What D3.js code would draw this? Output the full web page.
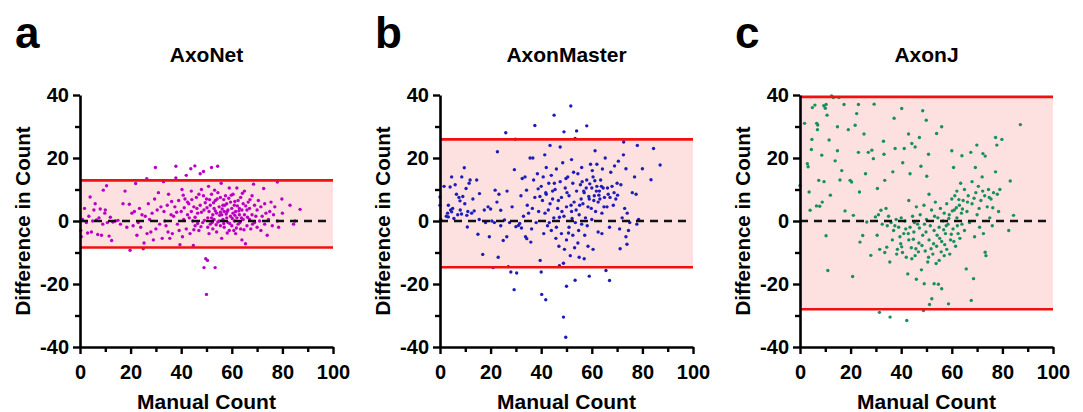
<!DOCTYPE html>
<html><head><meta charset="utf-8">
<script src="https://cdn.jsdelivr.net/npm/d3@7"></script>
<style>
body{margin:0;background:#fff;}
svg{display:block;font-family:"Liberation Sans",Arial,sans-serif;font-weight:bold;}
</style></head>
<body>
<svg id="chart" width="1083" height="412"></svg>
<script>
// ---- data ----
const panelLetters = ["a", "b", "c"];
const panelTitles = ["AxoNet", "AxonMaster", "AxonJ"];
const upperLimits = [12.9, 25.9, 39.4];
const lowerLimits = [-8.4, -14.7, -28.0];
const xTicks = [0, 20, 40, 60, 80, 100];
const yTicks = [-40, -20, 0, 20, 40];
const xLabel = "Manual Count";
const yLabel = "Difference in Count";

const axonetPts = [
[0.3,-3],[0.5,-5],[1,0.5],[1.8,4],[2.5,-0.5],[3,-3.8],[3.5,1.5],[4,7.6],[4.5,-3.5],[5,0],[5.5,3.5],[6,5.5],[6.5,0.3],[7,-4.3],[7.5,1],[8,3.8],[8.5,-4.5],[9,-1],[9.2,9.8],[9.8,2.5],[10,3.5],[10.5,11.2],[10.8,-0.5],[11.5,-4.8],[12,1.2],[12.5,-6.2],[13,-0.3],[14,0],[15,0.2],[16,-1],
[17,5.5],[17.8,9.5],[18.5,-2],[19.5,5.3],[19.8,-9.3],[20.5,2.5],[21,-1.5],[21.5,3],[22,11.9],[22.5,-4.5],[23,-0.5],[23.5,4],[24,-2],[24.5,2],[25,-8.8],[25.3,-7],[25.8,1.5],[26.4,13.4],[26.5,-4],[27,5.5],[27.5,0.5],[28,-3.5],[28.5,2.5],[29,-6],[29.8,17],[29.5,7],[30,-2.5],[30.5,3.5],[31,9],[31.5,-1],
[32,4.5],[32.5,-5.5],[33,12.5],[33.5,0],[34,-1.5],[34.5,5],[35,8.5],[35.5,-5.5],[36,2],[36.5,-4],[37,1.5],[37.5,4.5],[37.9,17.4],[37.9,13.7],[38.5,-1],[39,6.5],[39.5,-7.5],[40,3],[40.3,10],[40.5,-5],[41,0.5],[41.5,7],[42,14.5],[42,-2.5],[42.5,2],[43,5.5],[43.5,-4],[43.8,16.6],[44,9.5],[44.5,0],[44.8,-7.8],[45,4.5],[45.4,17.5],[45.5,-1.5],[46,7.5],[46.5,2.5],[47,-3],[47.5,15],[47.5,5],[48,10],[48.5,-0.5],[48.8,15.7],[49,-14.8],[49,3.5],[49.7,-12],[50,-23.3],[50.4,-12.5],[50,7],[50.5,1],[51,-4],
[51,3],[51.5,5],[51.5,-1],[52,17],[52,8.5],[52.5,2],[52.5,-2.5],[53,4],[53,0.5],[53.4,-14.8],[53.5,6.5],[54,-3.5],[54,2.5],[54.4,17.4],[54.5,9],[55,0],[55,4.5],[55.5,-1.5],[55.5,7.5],[56,2],[56,-5.5],[56.5,5],[56.5,0.5],[57,3],[57,-2],[57.5,8],[58,1],[58,5.5],[58.5,-0.5],[58.5,3.5],[59,10.5],[59,-3],[59.5,6],[59.5,1.5],[60,4],[60,-1.5],[60.5,2.5],[60.5,8.5],[61,0],[61,5],[61.5,-4],[61.5,3],[62,10.5],[62,1],[62.5,6.5],[62.5,-1],[63,4],[63,2],[63.5,-2.5],[63.5,7.5],[64,-6],[64,3.5],[64.5,0.5],[64.5,5.5],[65,2],[65,9.5],[65.4,-7.2],
[42.5,6],[44,3],[45.5,1.2],[46.5,-0.8],[48,2.8],[49.5,5.8],[50.5,-2],[52,1],[53.5,3.2],[54.5,-0.3],[55.5,2.8],[56.8,6.8],[57.8,2.2],[58.8,7.2],[60.2,0.8],[61.2,6.2],[62.8,3.2],[63.8,1],[45,-2.8],[47,8.5],[50.8,11],[53.2,9.8],[55.8,12],[58.2,-3.8],[61.8,-2.2],
[41.2,4.2],[43.2,1],[44.2,6.8],[46.2,4],[47.8,-1.8],[48.8,8],[49.2,0.2],[50.2,4.2],[51.2,6.8],[52.2,-0.5],[52.8,5.8],[53.8,-1.2],[54.2,7],[55.2,1.8],[56.2,3.8],[56.8,-0.8],[57.2,5],[58.2,3],[59.2,-0.8],[59.8,8.2],[60.8,-3],[61.2,1.8],[62.2,4.8],[63.2,-0.5],[64.2,8.8],[64.8,-2.8],[65.5,4.8],[66.2,1.2],[67.2,6.8],[68.2,-1],[36.2,6.2],[38.2,2.8],[39.2,-3],[40.8,8.2],[33.2,3],[34.8,-3.5],
[66,3.5],[66,-1.5],[66.5,6],[67,0.5],[67,4],[67.5,-2.5],[68,2],[68,8],[68.6,11.7],[69,-0.5],[69,5],[69.5,1.5],[70,-2],[70,3.5],[70.5,6.5],[71,0],[71.5,-3],[71.5,4.5],[72,1.5],[72.6,10.3],[73,-1],[73,5.5],[73.5,2.5],[74,-4.5],[74.5,0.5],[75,3],[75.5,6],[76,-1.5],[76.5,2],[77,4.5],[78,12.4],[78,0],[78.5,-2],[79.8,7],[80,2.5],[83,5],[84.4,-1],[87,3.7],[85,0]
];

const axonMasterPts = [
[0,7.6],[0,5],[0.3,0.5],[1.6,11],[2.5,1.5],[3,2.5],[3.3,5],[3.3,1.3],[4,10.8],[4.2,3.5],[4.6,14],[4.6,2.9],[5,4],[5.5,0.8],[6,11.5],[6.5,8.5],[7,2],[7.5,7.5],[7.9,6.4],[8,3.5],[8.5,2.2],[8.6,14],[9,7.8],[9.6,16.9],[9.8,5.5],[10.3,10.3],[10.6,1.8],[10.8,-1.9],[11,3],[11.5,12],[11.9,13],[12.5,2.5],[13,7],[13.5,3.2],[14.5,13],[15,-4.2],[15.6,8.7],[15.5,0.5],
[16.9,-10.6],[17.5,3.5],[18,-0.5],[19,4.5],[19.5,-5],[20,3.8],[20.5,0],[21,-14.8],[21.5,-0.5],[21.8,9.8],[22.7,22],[22.5,6],[23,-11.5],[23.3,8.5],[24,3.4],[24,-1.5],[25,-6.2],[25.5,0.3],[26,28],[26.4,-5],[26.5,9.5],[27,-14.5],[27.5,-0.5],[28,-16.2],[28.5,4.5],[29.3,-21.8],[29.4,16.3],[29.8,26],[30,-1.8],[30.3,-16.5],[31,-1.4],[31.5,-0.8],[32,8],[32.5,13.5],[33,1.5],[33.6,14],[33.8,-5],[34.3,-5.6],[34.5,5],[35,2.5],[35.6,20],[35.9,-6.7],
[36.5,4],[36.7,20],[37,13],[37.5,30.3],[37.5,7.5],[38,-0.5],[38.5,15],[39,3],[39.6,-12.5],[40,-16.2],[40,11],[40.2,-23.3],[40.5,6.5],[41,-4],[41.4,21],[41.5,2.5],[41.8,-25],[42,8.5],[42,17],[42.5,-1.5],[43,12],[43.5,24],[43.5,5.5],[44,-3],[44,14.5],[44.5,7],[45.1,33.6],[45,1],[45.5,10],[46,-2],[46,16.5],[46.5,4],[47,-8],[47.2,-14.2],[47.5,12.5],[47.5,23.5],[48,-4],[48,7.5],[48.5,18.5],[48.8,-13.4],[48.8,-30.5],[49,28.3],[49,1.5],[49.5,10.5],[49.7,-36.9],[50,-20.7],[50,4.5],[50,-6],
[50.5,14],[51,-2],[51,8],[51.7,36.5],[51.5,-11],[52,3],[52,19.5],[52.5,-4.5],[52.5,12],[53,6],[53.4,-18.8],[53.4,26.2],[53.5,-0.5],[54,28.6],[54,9.5],[54.5,-7],[54.5,15],[55,2],[55,-11.5],[55.5,11.5],[56,-1],[56,17],[56.5,5.5],[57,-12],[57,9],[57.5,1],[58,30.2],[58,13],[58.5,-8],[58.5,4.5],[59,-17.5],[59,7],[59.5,18],[60,0.5],[60,10.5],[60.5,-9],[60.5,14],[61,8],[61.3,22.3],[61.5,3],[62,11],[62,18],[62.5,-3.5],[62.5,6],[63,9.5],[63.5,13],[64,-4],[64,2.5],[64.5,10.5],[65,7.5],
[44.5,9.5],[46.8,6.5],[48.2,3],[50.2,9],[51.8,5],[53.8,3.5],[55.8,7],[57.8,10.5],[59.8,4],[61.8,9.5],[63.2,7],[64.8,4.5],[52.8,15.5],[56.2,12.5],[60.2,16],[45.8,-5.5],[49.2,-9],[54.8,-3],[58.2,-1.5],[41.8,9],[39.5,7.8],[43.2,-0.5],
[40.8,14],[42.8,3.5],[45.2,12],[47.2,1.2],[49.8,13.5],[50.8,-3.8],[52.2,0.8],[53.2,-8.5],[55.2,5],[56.8,9.5],[57.2,-4.5],[58.8,7.8],[59.2,11.8],[60.8,6.5],[61.2,12.8],[62.8,8.2],[63.8,11],[64.2,16.5],[66.2,10.5],[67.2,7.5],[68.8,9],[70.2,8.2],[38.8,10.2],[36.2,-2.5],[34.2,9.8],[32.2,-2.2],
[65.3,20],[65.6,-15.7],[66,4.5],[66.5,8.5],[67,-18.9],[67,-2],[67.5,15.5],[68,11],[68.5,5],[69,17.5],[69.5,7],[70,12],[70.5,19],[71,-2.5],[71.2,-8.8],[71.5,11.5],[72,1],[72.5,21],[72.6,25.1],[73,4],[73.5,16.6],[73.5,-5],[73.9,-7.4],[74,2.5],[74.5,-3],[75,-0.5],[76,9],[76.9,14],[77.5,8.5],[78,24],[77.8,-1],[78.5,0.5],[80,16.6],[83.4,13.1],[84.4,23],[87,17.8]
];

const axonJPts = [
[1.8,31],[0,11.3],[2.9,18.2],[3.6,9.2],[4,3.4],[4.5,22.7],[4.7,25.9],[4.9,36],[5.9,36.8],[6.6,31],[6.9,29],[7.4,12.9],[7.8,4.7],[8.6,20.9],[8.8,6],[9.4,36.6],[10,35.8],[10.3,37],[10.3,-4.7],[10.7,33.6],[11,-15.7],[11.5,25.7],[12.5,39.7],[13.2,39.2],[13.9,19.1],[14.8,29.9],[14.8,22.3],[15.4,39.2],[15.8,13],[17.4,37],[17.8,3.2],[19.1,29],[19.8,12.9],[20.4,12.4],[20.8,-17.6],[21.1,1.8],[21.8,30.4],[22.4,34.1],[23.1,37],[23.1,21.8],[23.5,9.2],[23.7,-6.7],[24.8,-4.6],[25.3,27.6],[25.9,15],[26.4,-0.3],[27,21.8],[28,-10.9],[28.4,22.5],[29,19.8],[29.3,37.1],[29.8,1.3],[30.6,10.3],[31.4,-29],[9.5,12.5],[6.5,4.8],[12,8.2],[16.5,16],[3.2,17.2],[7,30.5],
[30.5,-4.5],[31,2],[31.5,-9],[32,3.4],[32.5,-1],[33,25.3],[33.2,21.2],[33.5,12.9],[33.5,-10],[34,4],[34.3,-8.3],[34.5,-1.5],[35,1.5],[35.5,-13],[35.6,-30.5],[36,-0.5],[36.5,-6],[36.7,15.6],[37,-3],[37.2,32.6],[37.6,23],[38,0.5],[38.5,-9],[39,-2],[39.5,-5],[40,1],[40.2,35.7],[40.5,-10],[40.6,18.5],[41,-4],[41.2,23],[41.5,0],[42,-11.5],[42.2,-31.6],[42.6,-16.8],[42.9,27.6],[43,-6],[43,6.5],[43.5,15],[43.5,-2],[44,-8.5],[44.2,24.6],[44.5,1.5],[45,-3.5],[45.5,23.5],[45.5,-11],[46,4.5],[46,-18.5],[46.5,-1],[47,-7],[47.2,26.5],[47.5,2],[47.8,17.4],[48,-15.5],[48.5,35],[48.5,-4.5],[48.8,-28.4],[49,5],[49.1,-19.9],[49.5,-9.5],[49.9,32],[50,0.5],[50.1,14.2],[50.5,-13],[50.8,21.2],[51,-6],[51,8.5],[51.2,-26.5],[51.5,-1.5],[52,3.5],[52.1,-24.7],[52.5,-10.5],[53,-19.9],[53,-3],[53.5,6],[54,27.8],[54,-8],[54.5,1],[54.7,-20.1],[55,-12.5],[55,-2],[55.5,4],[56,29.9],[56,-21.5],[56,-6.5],[56.5,0],[57,-11],[57,2.5],[57.5,-4],[58,5.5],[58,-9],[58.7,-26.3],[58.5,-1],[59,2],[59.5,-6],[60,22.3],[60,7],[60.5,-2.5],[60.7,17],[61,3.5],[61.5,-8],[62,1],[62,9.5],[62.5,-4],[63,5],[63.5,12],[64,20.7],[64,-1],[64.5,6.5],[65,-3],[65,10],[65.7,-15.2],
[37.5,-1.5],[39.8,-7.2],[41.8,-2.5],[44.8,-5.8],[47.2,-2.2],[49.8,-3.5],[52.8,-7.2],[54.2,-4.5],[56.8,-2.8],[58.8,0.8],[60.2,3.2],[62.8,6.8],[45.8,-8.8],[50.8,-11.5],[55.8,-9.8],[59.8,-4.2],[61.8,4.2],[63.8,2.5],
[38.2,-10.5],[40.2,-8.2],[42.8,-4],[44.2,-12],[46.8,-9.8],[48.2,-7.8],[51.8,-8.8],[53.8,-13.5],[55.2,-5.5],[57.2,-7.5],[59.2,-10.5],[60.8,-6.5],[62.2,-1.5],[64.2,3.8],[66.2,6],[68.8,7.2],[70.8,4],[72.2,9.5],[74.8,7.5],[76.2,4.2],[61.2,8],[63.2,-5.5],[57.8,-1.5],[53.2,1.5],[49.2,-1],[45.2,-0.5],
[66,3],[66.5,8],[67,-0.5],[67.5,21.8],[67.7,-25.2],[68,5.5],[68,12.5],[68.6,-18.3],[69,-5],[69.3,17],[69.5,9],[69.9,24.1],[70,2],[70.5,11],[71,-2],[71.5,6.5],[72,14],[72.3,21.4],[72.5,-4],[73,8],[73.2,20.6],[73.2,-9.9],[73.5,-11],[74,4.5],[74.5,10],[75,1],[75.5,7],[76,-1.5],[76.5,9],[77.3,15.6],[77.3,26.5],[77.8,24.1],[78,8.5],[78.5,3],[79,10],[79.8,25.9],[82.5,-3],[83.1,12.7],[84.4,1.8],[87.1,30.6]
];

const seriesPoints = [axonetPts, axonMasterPts, axonJPts];
const pointColors = ["#b800c4", "#1c1cb8", "#16905e"];

// ---- drawing ----
const svg = d3.select("#chart");
const panelOffsets = [0, 360, 720];
const x = d3.scaleLinear().domain([0, 100]).range([80, 333]);
const y = d3.scaleLinear().domain([-40, 40]).range([347, 95]);
const fmt = d => String(d); // hyphen-minus like the reference

panelTitles.forEach((title, i) => {
  const g = svg.append("g").attr("transform", `translate(${panelOffsets[i]},0)`);

  g.append("rect")
    .attr("x", x(0)).attr("width", x(100) - x(0))
    .attr("y", y(upperLimits[i])).attr("height", y(lowerLimits[i]) - y(upperLimits[i]))
    .attr("fill", "#fde0e0");

  g.append("g").selectAll("circle").data(seriesPoints[i]).join("circle")
    .attr("cx", d => x(d[0])).attr("cy", d => y(d[1]))
    .attr("r", 1.7).attr("fill", pointColors[i]);

  [upperLimits[i], lowerLimits[i]].forEach(v => {
    g.append("line").attr("x1", x(0)).attr("x2", x(100))
      .attr("y1", y(v)).attr("y2", y(v))
      .attr("stroke", "#f01010").attr("stroke-width", 2.6);
  });
  g.append("line").attr("x1", x(0)).attr("x2", x(98))
    .attr("y1", y(0)).attr("y2", y(0))
    .attr("stroke", "#111").attr("stroke-width", 2.4)
    .attr("stroke-dasharray", "8,6");

  g.append("g").attr("transform", `translate(${x(0)},0)`)
    .call(d3.axisLeft(y).tickValues(yTicks).tickSize(7).tickSizeOuter(0).tickPadding(4).tickFormat(fmt));
  g.append("g").attr("transform", `translate(${x(0)},0)`)
    .call(d3.axisLeft(y).tickValues([-30, -10, 10, 30]).tickSize(5).tickSizeOuter(0).tickFormat(""))
    .select(".domain").remove();
  g.append("g").attr("transform", `translate(0,${y(-40)})`)
    .call(d3.axisBottom(x).tickValues(xTicks).tickSize(7).tickSizeOuter(0).tickPadding(11).tickFormat(fmt));
  g.append("g").attr("transform", `translate(0,${y(-40)})`)
    .call(d3.axisBottom(x).tickValues([10, 30, 50, 70, 90]).tickSize(5).tickSizeOuter(0).tickFormat(""))
    .select(".domain").remove();

  g.selectAll(".domain").attr("stroke", "#000").attr("stroke-width", 2.6);
  g.selectAll(".tick line").attr("stroke", "#000").attr("stroke-width", 2.4);
  g.selectAll(".tick text").attr("font-size", 20).attr("font-weight", "bold")
    .attr("font-family", '"Liberation Sans", Arial, sans-serif').attr("fill", "#000");

  g.append("text").attr("x", (x(0) + x(100)) / 2).attr("y", 409)
    .attr("text-anchor", "middle").attr("font-size", 21).text(xLabel);
  g.append("text").attr("transform", `translate(30,${y(0)}) rotate(-90)`)
    .attr("text-anchor", "middle").attr("font-size", 20.5).text(yLabel);

  g.append("text").attr("x", (x(0) + x(100)) / 2).attr("y", 62)
    .attr("text-anchor", "middle").attr("font-size", 21).text(title);
  g.append("text").attr("x", 15).attr("y", 48)
    .attr("font-size", 44).text(panelLetters[i]);
});
</script>
</body></html>
